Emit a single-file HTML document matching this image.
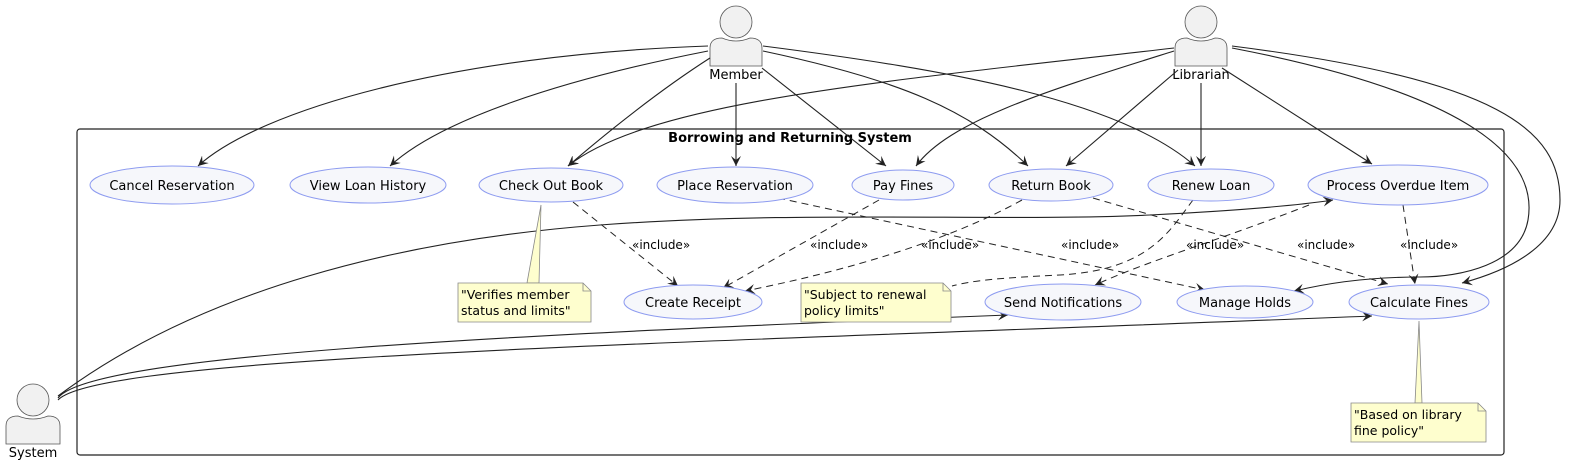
<!DOCTYPE html>
<html><head><meta charset="utf-8"><style>
html,body{margin:0;padding:0;background:#fff;}
svg{display:block;font-family:"DejaVu Sans","Liberation Sans",sans-serif;}
</style></head><body>
<svg width="1578" height="465" viewBox="0 0 1578 465" xmlns="http://www.w3.org/2000/svg">
<defs>
<marker id="a" markerWidth="12" markerHeight="10" refX="10" refY="5" orient="auto" markerUnits="userSpaceOnUse">
<path d="M0,0 L10,5 L0,10 L4,5 Z" fill="#222"/>
</marker>
</defs>
<rect x="77" y="129" width="1427" height="326" rx="3" fill="none" stroke="#222" stroke-width="1.2"/>
<text x="790" y="142" font-size="13" font-weight="bold" text-anchor="middle" fill="#000">Borrowing and Returning System</text>

<!-- actors -->
<g fill="#f1f1f1" stroke="#555" stroke-width="0.8">
<circle cx="736" cy="22" r="16"/>
<path d="M710,66 L710,48 Q710,38 722,38 Q736,44 750,38 Q762,38 762,48 L762,66 Z"/>
<circle cx="1201" cy="22" r="16"/>
<path d="M1175,66 L1175,48 Q1175,38 1187,38 Q1201,44 1215,38 Q1227,38 1227,48 L1227,66 Z"/>
<circle cx="33" cy="400" r="16"/>
<path d="M6,444 L6,426 Q6,416 18,416 Q33,422 48,416 Q60,416 60,426 L60,444 Z"/>
</g>
<g font-size="13" text-anchor="middle" fill="#000">
<text x="736" y="79">Member</text>
<text x="1201" y="79">Librarian</text>
<text x="33" y="457">System</text>
</g>

<!-- solid associations -->
<g fill="none" stroke="#222" stroke-width="1.1" marker-end="url(#a)">
<path d="M708,46 C450,55 260,110 198,166"/>
<path d="M708,51 C560,80 440,120 390,166"/>
<path d="M710,58 C660,90 610,130 568,166"/>
<path d="M736,83 L736,166"/>
<path d="M762,68 L886,166"/>
<path d="M763,51 C900,80 970,110 1028,166"/>
<path d="M763,46 C950,70 1120,100 1195,166"/>
<path d="M1174,48 C900,80 650,100 568,166"/>
<path d="M1174,51 C1050,90 950,120 916,166"/>
<path d="M1178,70 L1066,166"/>
<path d="M1201,83 L1201,166"/>
<path d="M1222,68 L1372,164"/>
<path d="M1232,48 C1450,90 1540,150 1528,220 C1520,265 1460,277 1420,277 C1360,277 1320,285 1294,291"/>
<path d="M1232,46 C1500,80 1560,130 1560,200 C1560,245 1510,270 1462,283"/>
<path d="M58,396 C200,290 400,240 600,225 C800,210 1000,222 1150,215 C1250,210 1300,205 1333,200"/>
<path d="M58,398 C90,355 500,335 1008,315"/>
<path d="M58,400 C100,355 700,343 1372,316"/>
</g>

<!-- dashed includes -->
<g fill="none" stroke="#222" stroke-width="1" stroke-dasharray="7,5" marker-end="url(#a)">
<path d="M573,202 L678,286"/>
<path d="M879,200 L723,288"/>
<path d="M1022,200 C950,240 850,270 745,291"/>
<path d="M778,198 L1205,290"/>
<path d="M1309,205 C1220,240 1150,260 1095,285"/>
<path d="M1093,198 L1388,284"/>
<path d="M1403,205 L1415,284"/>
</g>
<path d="M1193,200 C1170,230 1150,270 1060,275 C1000,278 975,280 952,286" fill="none" stroke="#222" stroke-width="1" stroke-dasharray="7,5"/>

<g font-size="12" fill="#000">
<text x="632" y="249">«include»</text>
<text x="810" y="249">«include»</text>
<text x="921" y="249">«include»</text>
<text x="1061" y="249">«include»</text>
<text x="1186" y="249">«include»</text>
<text x="1297" y="249">«include»</text>
<text x="1400" y="249">«include»</text>
</g>

<!-- use cases -->
<g fill="#f6f7fb" stroke="#8d9bf0" stroke-width="1">
<ellipse cx="172" cy="185" rx="82" ry="19"/>
<ellipse cx="368" cy="185" rx="78" ry="18"/>
<ellipse cx="551" cy="185" rx="72" ry="17"/>
<ellipse cx="735" cy="185" rx="78" ry="18"/>
<ellipse cx="903" cy="185" rx="51" ry="15"/>
<ellipse cx="1051" cy="185" rx="62" ry="16"/>
<ellipse cx="1211" cy="185" rx="63" ry="16"/>
<ellipse cx="1398" cy="185" rx="90" ry="20"/>
<ellipse cx="693" cy="302" rx="69" ry="17"/>
<ellipse cx="1063" cy="302" rx="78" ry="18"/>
<ellipse cx="1245" cy="302" rx="68" ry="16"/>
<ellipse cx="1419" cy="302" rx="70" ry="17"/>
</g>
<g font-size="13" text-anchor="middle" fill="#000">
<text x="172" y="190">Cancel Reservation</text>
<text x="368" y="190">View Loan History</text>
<text x="551" y="190">Check Out Book</text>
<text x="735" y="190">Place Reservation</text>
<text x="903" y="190">Pay Fines</text>
<text x="1051" y="190">Return Book</text>
<text x="1211" y="190">Renew Loan</text>
<text x="1398" y="190">Process Overdue Item</text>
<text x="693" y="307">Create Receipt</text>
<text x="1063" y="307">Send Notifications</text>
<text x="1245" y="307">Manage Holds</text>
<text x="1419" y="307">Calculate Fines</text>
</g>

<!-- notes -->
<g fill="#fefece" stroke="#888" stroke-width="0.8">
<path d="M527,283 L541,205 L539,283 Z"/>
<path d="M458,283 L583,283 L591,291 L591,322 L458,322 Z"/>
<path d="M583,283 L583,291 L591,291" fill="none"/>
<path d="M801,283 L943,283 L951,291 L951,322 L801,322 Z"/>
<path d="M943,283 L943,291 L951,291" fill="none"/>
<path d="M1415,403 L1419,321 L1422,403 Z"/>
<path d="M1351,403 L1478,403 L1486,411 L1486,442 L1351,442 Z"/>
<path d="M1478,403 L1478,411 L1486,411" fill="none"/>
</g>
<g font-size="12.5" fill="#000">
<text x="461" y="299">"Verifies member</text>
<text x="461" y="315">status and limits"</text>
<text x="804" y="299">"Subject to renewal</text>
<text x="804" y="315">policy limits"</text>
<text x="1354" y="419">"Based on library</text>
<text x="1354" y="435">fine policy"</text>
</g>
</svg>
</body></html>
